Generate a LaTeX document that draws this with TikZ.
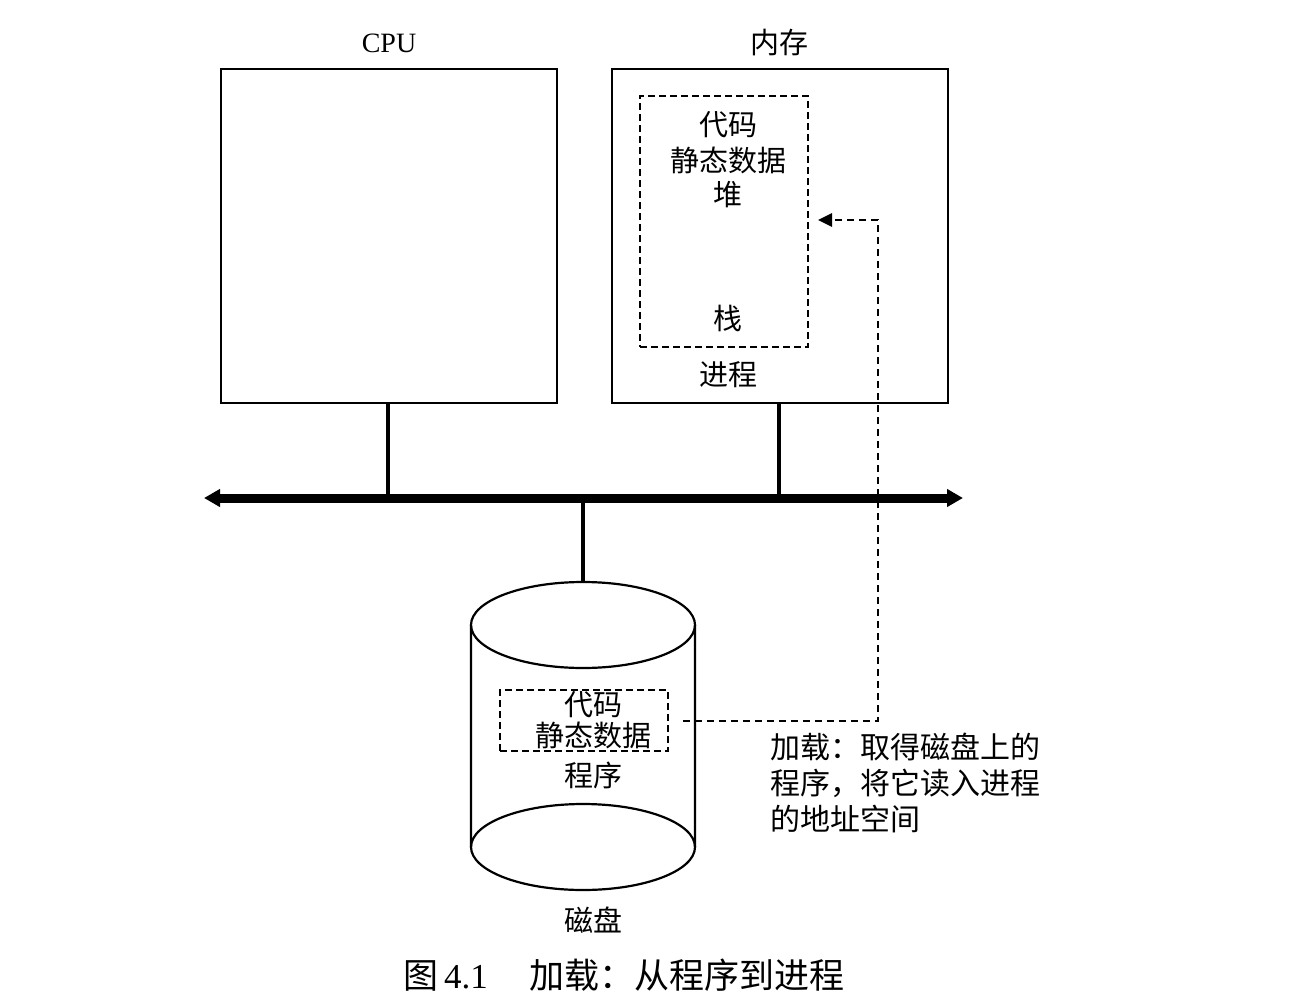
\documentclass[tikz,border=0pt]{standalone}
\usepackage{fontspec}
\setmainfont{Liberation Serif}
\newfontfamily\cjk{Noto Sans CJK SC}
\usetikzlibrary{arrows.meta}
\begin{document}
\begin{tikzpicture}[x=1pt,y=-1pt,
  box/.style={draw,line width=2.2pt},
  dbox/.style={draw,line width=2.4pt,dash pattern=on 7pt off 4pt},
  lbl/.style={font=\cjk\fontsize{29}{30}\selectfont,inner sep=0pt},
  conn/.style={line width=3.2pt},
  dconn/.style={line width=2.6pt,dash pattern=on 7pt off 5pt},
]
\useasboundingbox[fill=white] (0,0) rectangle (1313,1008);
% boxes
\node[box,minimum width=336pt,minimum height=334pt,anchor=north west,inner sep=0pt] (cpu) at (220,68) {};
\node[box,minimum width=336pt,minimum height=334pt,anchor=north west,inner sep=0pt] (mem) at (611,68) {};
\node[font=\fontsize{28}{30}\selectfont,inner sep=0pt] (cpulbl) at (389,43) {CPU};
\node[lbl] (memlbl) at (779,43) {内存};
% process
\node[dbox,minimum width=168pt,minimum height=251pt,anchor=north west,inner sep=0pt] (proc) at (639,95) {};
\node[lbl] (pcode) at (728,125) {代码};
\node[lbl] (pdata) at (728,160) {静态数据};
\node[lbl] (pheap) at (728,195) {堆};
\node[lbl] (pstack) at (728,318) {栈};
\node[lbl] (proclbl) at (728,375) {进程};
% bus
\coordinate (busL) at (204,498);
\coordinate (busR) at (963,498);
\coordinate (busC) at (388,498);
\coordinate (busM) at (779,498);
\coordinate (busD) at (583,498);
\draw[line width=9pt,{Triangle[length=16pt,width=17pt]}-{Triangle[length=16pt,width=17pt]}] (busL) -- (busR);
\draw[conn] (cpu.south -| busC) -- (busC);
\draw[conn] (mem.south -| busM) -- (busM);
% disk
\coordinate (diskTop) at (583,582);
\draw[conn] (busD) -- (diskTop);
\draw[line width=2.2pt] (471,625) -- (471,847) arc[start angle=180,end angle=360,x radius=112pt,y radius=43pt] -- (695,625);
\draw[line width=2.2pt] (583,625) ellipse [x radius=112pt,y radius=43pt];
\draw[line width=2.2pt] (471,847) arc[start angle=180,end angle=0,x radius=112pt,y radius=43pt];
\node[dbox,minimum width=168pt,minimum height=61pt,anchor=north west,inner sep=0pt] (prog) at (499,689) {};
\node[lbl] (dcode) at (593,705) {代码};
\node[lbl] (ddata) at (593,735) {静态数据};
\node[lbl] (proglbl) at (593,775) {程序};
\node[lbl] (disklbl) at (593,920) {磁盘};
% load arrow
\coordinate (ls) at (683,721);
\coordinate (le) at (818,220);
\draw[dconn,-{Triangle[length=14pt,width=13pt]}] (ls) -- (878,721) -- (878,220) -- (le);
% annotation
\node[font=\cjk\fontsize{30}{36}\selectfont,align=left,anchor=north west,inner sep=0pt] (note) at (770,733) {加载：取得磁盘上的\\程序，将它读入进程\\的地址空间};
% caption
\node[font=\fontsize{35}{40}\selectfont,inner sep=0pt] (cap) at (624,975) {{\cjk 图}\,4.1\hspace{1.2em}{\cjk 加载：从程序到进程}};
\end{tikzpicture}
\end{document}
